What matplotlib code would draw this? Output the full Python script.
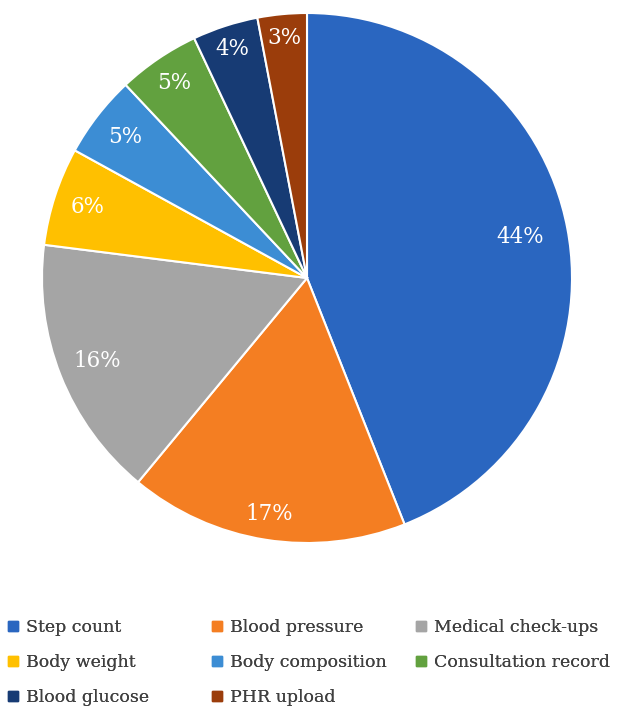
import numpy as np
import matplotlib.pyplot as plt
from matplotlib.lines import Line2D

# dados do grafico
categorias = ["Step count", "Blood pressure", "Medical check-ups", "Body weight",
              "Body composition", "Consultation record", "Blood glucose", "PHR upload"]
valores = [44, 17, 16, 6, 5, 5, 4, 3]
cores = ["#2A66C0", "#F47E22", "#A5A5A5", "#FFC000",
         "#3C8DD4", "#62A13F", "#173B74", "#9B3D0B"]

plt.rcParams["font.family"] = ["DejaVu Serif"]

fig = plt.figure(figsize=(6.17, 7.07), dpi=100)
W, H = 617, 707
# pizza centrada em (307, 278) px com raio 265
ax = fig.add_axes([42 / W, 1 - 543 / H, 530 / W, 530 / H])

wedges, textos, pcts = ax.pie(valores, colors=cores, startangle=90, counterclock=False,
                              autopct="%d%%", pctdistance=0.86,
                              wedgeprops=dict(edgecolor="white", linewidth=1.5),
                              textprops=dict(color="white", fontsize=15.5))
# distancia radial de cada rotulo (ajuste visual)
dist = [0.82, 0.90, 0.85, 0.87, 0.87, 0.89, 0.91, 0.91]
for w, t, d in zip(wedges, pcts, dist):
    ang = np.deg2rad((w.theta1 + w.theta2) / 2)
    t.set_position((d * np.cos(ang), d * np.sin(ang)))
ax.set_aspect("equal")
ax.set_xlim(-1, 1)
ax.set_ylim(-1, 1)

# legenda em 3 colunas de largura fixa, preenchida por linhas (como no Excel)
xcols = [-10, 194, 398]
for c, x0 in enumerate(xcols):
    idx = list(range(c, len(categorias), 3))
    handles = [Line2D([], [], marker="s", linestyle="", markersize=7,
                      markerfacecolor=cores[i], markeredgecolor=cores[i]) for i in idx]
    leg = fig.legend(handles, [categorias[i] for i in idx], loc="upper left",
                     bbox_to_anchor=(x0 / W, 1 - 603 / H),
                     frameon=False, fontsize=12.5, handlelength=0.8, handletextpad=0.4,
                     labelspacing=1.05, labelcolor="#404040")
    fig.add_artist(leg)

plt.savefig("out.png", dpi=100)
